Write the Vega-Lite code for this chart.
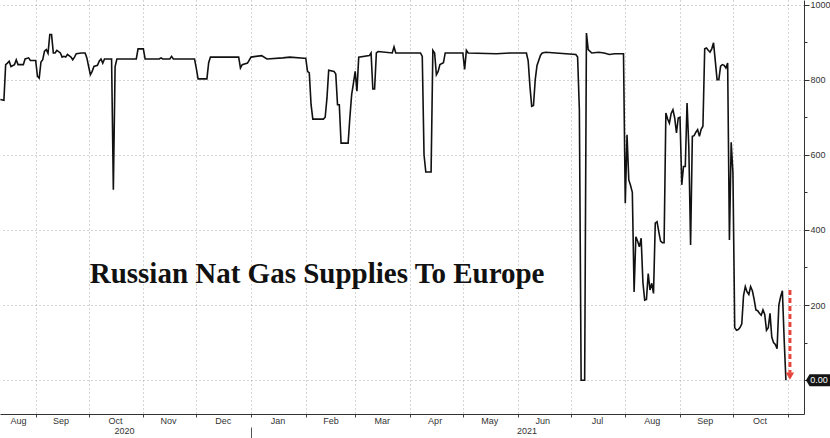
{
  "$schema": "https://vega.github.io/schema/vega-lite/v6.json",
  "width": 804,
  "height": 414,
  "autosize": {"type": "none"},
  "padding": {"left": 0, "top": 0, "right": 26, "bottom": 24},
  "background": "white",
  "config": {
    "view": {"stroke": null},
    "axis": {"labelFont": "Liberation Sans", "labelFontSize": 9, "labelColor": "#333", "title": null}
  },
  "datasets": {
    "gas": [
      {"d":"2020-08-12","v":747},{"d":"2020-08-14","v":745},{"d":"2020-08-15","v":840},{"d":"2020-08-16","v":844},
      {"d":"2020-08-17","v":849},{"d":"2020-08-18","v":835},{"d":"2020-08-20","v":840},{"d":"2020-08-21","v":853},
      {"d":"2020-08-22","v":840},{"d":"2020-08-25","v":840},{"d":"2020-08-26","v":855},{"d":"2020-08-28","v":858},
      {"d":"2020-08-29","v":851},{"d":"2020-09-01","v":851},{"d":"2020-09-02","v":809},{"d":"2020-09-03","v":804},
      {"d":"2020-09-04","v":847},{"d":"2020-09-05","v":853},{"d":"2020-09-06","v":876},{"d":"2020-09-07","v":880},
      {"d":"2020-09-08","v":870},{"d":"2020-09-09","v":920},{"d":"2020-09-10","v":920},{"d":"2020-09-11","v":871},
      {"d":"2020-09-12","v":871},{"d":"2020-09-13","v":878},{"d":"2020-09-15","v":871},{"d":"2020-09-16","v":860},
      {"d":"2020-09-17","v":862},{"d":"2020-09-18","v":860},{"d":"2020-09-19","v":867},{"d":"2020-09-21","v":860},
      {"d":"2020-09-22","v":853},{"d":"2020-09-23","v":860},{"d":"2020-09-24","v":869},{"d":"2020-09-27","v":871},
      {"d":"2020-09-29","v":871},{"d":"2020-09-30","v":858},{"d":"2020-10-01","v":835},{"d":"2020-10-02","v":813},
      {"d":"2020-10-03","v":822},{"d":"2020-10-04","v":835},{"d":"2020-10-06","v":838},{"d":"2020-10-07","v":849},
      {"d":"2020-10-08","v":855},{"d":"2020-10-09","v":844},{"d":"2020-10-10","v":855},{"d":"2020-10-14","v":855},
      {"d":"2020-10-15","v":507},{"d":"2020-10-16","v":835},{"d":"2020-10-17","v":855},{"d":"2020-10-28","v":855},
      {"d":"2020-10-29","v":882},{"d":"2020-11-01","v":882},{"d":"2020-11-02","v":855},{"d":"2020-11-10","v":855},
      {"d":"2020-11-11","v":858},{"d":"2020-11-12","v":855},{"d":"2020-11-16","v":855},{"d":"2020-11-17","v":862},
      {"d":"2020-11-18","v":855},{"d":"2020-11-30","v":855},{"d":"2020-12-01","v":830},{"d":"2020-12-02","v":802},
      {"d":"2020-12-07","v":802},{"d":"2020-12-08","v":845},{"d":"2020-12-09","v":860},{"d":"2020-12-25","v":860},
      {"d":"2020-12-26","v":831},{"d":"2020-12-27","v":840},{"d":"2020-12-30","v":844},{"d":"2021-01-01","v":860},
      {"d":"2021-01-07","v":864},{"d":"2021-01-10","v":855},{"d":"2021-01-19","v":858},{"d":"2021-01-23","v":860},
      {"d":"2021-01-31","v":857},{"d":"2021-02-01","v":857},{"d":"2021-02-02","v":822},{"d":"2021-02-03","v":818},
      {"d":"2021-02-04","v":734},{"d":"2021-02-05","v":695},{"d":"2021-02-11","v":695},{"d":"2021-02-12","v":700},
      {"d":"2021-02-13","v":750},{"d":"2021-02-14","v":825},{"d":"2021-02-17","v":822},{"d":"2021-02-18","v":815},
      {"d":"2021-02-19","v":733},{"d":"2021-02-20","v":733},{"d":"2021-02-21","v":631},{"d":"2021-02-25","v":631},
      {"d":"2021-02-26","v":700},{"d":"2021-02-27","v":760},{"d":"2021-02-28","v":790},{"d":"2021-03-01","v":822},
      {"d":"2021-03-02","v":769},{"d":"2021-03-03","v":860},{"d":"2021-03-09","v":864},{"d":"2021-03-10","v":871},
      {"d":"2021-03-11","v":775},{"d":"2021-03-12","v":775},{"d":"2021-03-13","v":871},{"d":"2021-03-14","v":875},
      {"d":"2021-03-22","v":871},{"d":"2021-03-23","v":887},{"d":"2021-03-24","v":871},{"d":"2021-04-07","v":871},
      {"d":"2021-04-08","v":862},{"d":"2021-04-09","v":600},{"d":"2021-04-10","v":554},{"d":"2021-04-13","v":554},
      {"d":"2021-04-14","v":878},{"d":"2021-04-15","v":871},{"d":"2021-04-16","v":813},{"d":"2021-04-17","v":822},
      {"d":"2021-04-18","v":840},{"d":"2021-04-20","v":845},{"d":"2021-04-21","v":871},{"d":"2021-05-01","v":871},
      {"d":"2021-05-02","v":827},{"d":"2021-05-03","v":878},{"d":"2021-05-04","v":871},{"d":"2021-05-20","v":869},
      {"d":"2021-05-28","v":871},{"d":"2021-06-06","v":871},{"d":"2021-06-07","v":850},{"d":"2021-06-08","v":782},
      {"d":"2021-06-09","v":729},{"d":"2021-06-10","v":731},{"d":"2021-06-11","v":800},{"d":"2021-06-12","v":838},
      {"d":"2021-06-14","v":865},{"d":"2021-06-15","v":871},{"d":"2021-06-17","v":873},{"d":"2021-07-04","v":867},
      {"d":"2021-07-05","v":860},{"d":"2021-07-06","v":720},{"d":"2021-07-07","v":0},{"d":"2021-07-08","v":0},
      {"d":"2021-07-09","v":0},{"d":"2021-07-10","v":924},{"d":"2021-07-11","v":880},{"d":"2021-07-13","v":871},
      {"d":"2021-07-17","v":873},{"d":"2021-07-20","v":871},{"d":"2021-07-23","v":867},{"d":"2021-07-26","v":869},
      {"d":"2021-07-31","v":869},{"d":"2021-08-01","v":471},{"d":"2021-08-02","v":653},{"d":"2021-08-03","v":533},
      {"d":"2021-08-04","v":518},{"d":"2021-08-05","v":500},{"d":"2021-08-06","v":235},{"d":"2021-08-07","v":382},
      {"d":"2021-08-08","v":370},{"d":"2021-08-09","v":355},{"d":"2021-08-10","v":378},{"d":"2021-08-11","v":260},
      {"d":"2021-08-12","v":213},{"d":"2021-08-13","v":215},{"d":"2021-08-14","v":284},{"d":"2021-08-15","v":240},
      {"d":"2021-08-16","v":258},{"d":"2021-08-17","v":231},{"d":"2021-08-18","v":418},{"d":"2021-08-19","v":422},
      {"d":"2021-08-20","v":395},{"d":"2021-08-21","v":370},{"d":"2021-08-22","v":366},{"d":"2021-08-23","v":366},
      {"d":"2021-08-24","v":711},{"d":"2021-08-25","v":695},{"d":"2021-08-26","v":684},{"d":"2021-08-27","v":710},
      {"d":"2021-08-28","v":720},{"d":"2021-08-29","v":698},{"d":"2021-08-30","v":658},{"d":"2021-08-31","v":698},
      {"d":"2021-09-01","v":700},{"d":"2021-09-02","v":520},{"d":"2021-09-03","v":569},{"d":"2021-09-04","v":569},
      {"d":"2021-09-05","v":738},{"d":"2021-09-06","v":620},{"d":"2021-09-07","v":360},{"d":"2021-09-08","v":649},
      {"d":"2021-09-09","v":651},{"d":"2021-09-10","v":660},{"d":"2021-09-11","v":667},{"d":"2021-09-12","v":649},
      {"d":"2021-09-13","v":668},{"d":"2021-09-14","v":676},{"d":"2021-09-15","v":882},{"d":"2021-09-16","v":884},
      {"d":"2021-09-17","v":878},{"d":"2021-09-18","v":873},{"d":"2021-09-19","v":882},{"d":"2021-09-20","v":898},
      {"d":"2021-09-21","v":850},{"d":"2021-09-22","v":800},{"d":"2021-09-23","v":800},{"d":"2021-09-24","v":836},
      {"d":"2021-09-25","v":840},{"d":"2021-09-26","v":838},{"d":"2021-09-27","v":831},{"d":"2021-09-28","v":844},
      {"d":"2021-09-29","v":373},{"d":"2021-09-30","v":633},{"d":"2021-10-01","v":551},{"d":"2021-10-02","v":140},
      {"d":"2021-10-03","v":133},{"d":"2021-10-04","v":135},{"d":"2021-10-05","v":140},{"d":"2021-10-06","v":150},
      {"d":"2021-10-07","v":225},{"d":"2021-10-08","v":249},{"d":"2021-10-09","v":235},{"d":"2021-10-10","v":228},
      {"d":"2021-10-11","v":249},{"d":"2021-10-12","v":238},{"d":"2021-10-13","v":215},{"d":"2021-10-14","v":187},
      {"d":"2021-10-15","v":185},{"d":"2021-10-16","v":178},{"d":"2021-10-17","v":173},{"d":"2021-10-18","v":187},
      {"d":"2021-10-19","v":175},{"d":"2021-10-20","v":133},{"d":"2021-10-21","v":140},{"d":"2021-10-22","v":178},
      {"d":"2021-10-23","v":115},{"d":"2021-10-24","v":100},{"d":"2021-10-25","v":95},{"d":"2021-10-26","v":84},
      {"d":"2021-10-27","v":200},{"d":"2021-10-28","v":222},{"d":"2021-10-29","v":238},{"d":"2021-10-30","v":110},
      {"d":"2021-10-31","v":0}
    ]
  },
  "layer": [
    {
      "data": {"name": "gas"},
      "mark": {"type": "line", "color": "#111111", "strokeWidth": 1.6},
      "encoding": {
        "x": {"field": "d", "type": "temporal",
          "scale": {"type": "utc", "nice": false, "domain": [{"year":2020,"month":8,"date":11,"hours":19,"utc":true},{"year":2021,"month":11,"date":10,"hours":6,"utc":true}]},
          "axis": {"orient": "bottom", "labels": false, "grid": true, "gridDash": [1, 3], "gridColor": "#a8a8a8",
            "ticks": true, "tickSize": 3, "tickColor": "#444", "domain": true, "domainColor": "#333",
            "values": [
              {"year":2020,"month":9,"date":1,"utc":true},{"year":2020,"month":10,"date":1,"utc":true},
              {"year":2020,"month":11,"date":1,"utc":true},{"year":2020,"month":12,"date":1,"utc":true},
              {"year":2021,"month":1,"date":1,"utc":true},{"year":2021,"month":2,"date":1,"utc":true},
              {"year":2021,"month":3,"date":1,"utc":true},{"year":2021,"month":4,"date":1,"utc":true},
              {"year":2021,"month":5,"date":1,"utc":true},{"year":2021,"month":6,"date":1,"utc":true},
              {"year":2021,"month":7,"date":1,"utc":true},{"year":2021,"month":8,"date":1,"utc":true},
              {"year":2021,"month":9,"date":1,"utc":true},{"year":2021,"month":10,"date":1,"utc":true},
              {"year":2021,"month":11,"date":1,"utc":true}
            ]}},
        "y": {"field": "v", "type": "quantitative",
          "scale": {"domain": [-90, 1012], "nice": false, "zero": false},
          "axis": {"orient": "right", "values": [0, 200, 400, 600, 800, 1000], "format": "d",
            "grid": true, "gridDash": [1, 3], "gridColor": "#a8a8a8", "tickSize": 5, "tickColor": "#333",
            "domainColor": "#333", "labelPadding": 1,
            "labelExpr": "datum.value == 0 ? '' : datum.label"}}
      }
    },
    {
      "data": {"values": [{}]},
      "mark": {"type": "rule", "color": "#e8453c", "strokeWidth": 3, "strokeDash": [5, 3]},
      "encoding": {
        "x": {"datum": {"year":2021,"month":11,"date":2,"hours":7,"utc":true}, "type": "temporal",
          "scale": {"type": "utc", "nice": false, "domain": [{"year":2020,"month":8,"date":11,"hours":19,"utc":true},{"year":2021,"month":11,"date":10,"hours":6,"utc":true}]},
          "axis": {"orient": "bottom", "labelExpr": "utcFormat(datum.value, '%b')", "ticks": false, "grid": false, "domain": false,
            "labelPadding": 2, "labelBaseline": "top", "labelOverlap": false, "labelFlush": false, "labelBound": false,
            "values": [
              {"year":2020,"month":8,"date":22,"utc":true},{"year":2020,"month":9,"date":15,"utc":true},
              {"year":2020,"month":10,"date":16,"utc":true},{"year":2020,"month":11,"date":15,"utc":true},
              {"year":2020,"month":12,"date":16,"utc":true},{"year":2021,"month":1,"date":16,"utc":true},
              {"year":2021,"month":2,"date":15,"utc":true},{"year":2021,"month":3,"date":16,"utc":true},
              {"year":2021,"month":4,"date":15,"utc":true},{"year":2021,"month":5,"date":16,"utc":true},
              {"year":2021,"month":6,"date":15,"utc":true},{"year":2021,"month":7,"date":16,"utc":true},
              {"year":2021,"month":8,"date":16,"utc":true},{"year":2021,"month":9,"date":15,"utc":true},
              {"year":2021,"month":10,"date":16,"utc":true}
            ]}},
        "y": {"datum": 240, "type": "quantitative",
          "scale": {"domain": [-90, 1012], "nice": false, "zero": false},
          "axis": {"orient": "right", "values": [100, 300, 500, 700, 900], "labels": false, "grid": false,
            "domain": false, "tickSize": 3, "tickColor": "#333"}},
        "y2": {"datum": 20}
      }
    },
    {
      "data": {"values": [{}]},
      "mark": {"type": "point", "shape": "triangle-down", "filled": true, "color": "#e8453c", "size": 70, "opacity": 1},
      "encoding": {
        "x": {"datum": {"year":2021,"month":11,"date":2,"hours":7,"utc":true}, "type": "temporal",
          "scale": {"type": "utc", "nice": false, "domain": [{"year":2020,"month":8,"date":11,"hours":19,"utc":true},{"year":2021,"month":11,"date":10,"hours":6,"utc":true}]},
          "axis": {"orient": "bottom", "labelExpr": "utcFormat(datum.value, '%Y')", "ticks": false, "grid": false, "domain": false,
            "labelPadding": 12, "labelBaseline": "top", "labelOverlap": false, "labelFlush": false, "labelBound": false,
            "values": [{"year":2020,"month":10,"date":21,"utc":true},{"year":2021,"month":6,"date":6,"utc":true}]}},
        "y": {"datum": 11, "type": "quantitative", "scale": {"domain": [-90, 1012], "nice": false, "zero": false}, "axis": null}
      }
    },
    {
      "data": {"values": [{}]},
      "mark": {"type": "text", "text": "Russian Nat Gas Supplies To Europe", "font": "Liberation Serif", "fontWeight": "bold",
        "fontSize": 29, "align": "center", "baseline": "alphabetic", "color": "#111"},
      "encoding": {
        "x": {"datum": {"year":2021,"month":2,"date":7,"hours":10,"utc":true}, "type": "temporal",
          "scale": {"type": "utc", "nice": false, "domain": [{"year":2020,"month":8,"date":11,"hours":19,"utc":true},{"year":2021,"month":11,"date":10,"hours":6,"utc":true}]},
          "axis": {"orient": "bottom", "labels": false, "grid": false, "domain": false, "ticks": true, "tickSize": 11,
            "offset": 13, "tickColor": "#555",
            "values": [{"year":2021,"month":1,"date":1,"utc":true}]}},
        "y": {"datum": 258, "type": "quantitative", "scale": {"domain": [-90, 1012], "nice": false, "zero": false}, "axis": null}
      }
    },
    {
      "data": {"values": [{}]},
      "mark": {"type": "point", "shape": "M -1 0 L -0.72 -0.46 L 1 -0.46 L 1 0.46 L -0.72 0.46 Z", "filled": true,
        "color": "#151515", "size": 676, "opacity": 1},
      "encoding": {
        "x": {"datum": {"year":2021,"month":11,"date":18,"hours":17,"utc":true}, "type": "temporal",
          "scale": {"type": "utc", "nice": false, "domain": [{"year":2020,"month":8,"date":11,"hours":19,"utc":true},{"year":2021,"month":11,"date":10,"hours":6,"utc":true}]},
          "axis": null},
        "y": {"datum": 0, "type": "quantitative", "scale": {"domain": [-90, 1012], "nice": false, "zero": false}, "axis": null}
      }
    },
    {
      "data": {"values": [{}]},
      "mark": {"type": "text", "text": "0.00", "font": "Liberation Sans", "fontSize": 9, "align": "center", "baseline": "middle", "color": "white"},
      "encoding": {
        "x": {"datum": {"year":2021,"month":11,"date":18,"hours":17,"utc":true}, "type": "temporal",
          "scale": {"type": "utc", "nice": false, "domain": [{"year":2020,"month":8,"date":11,"hours":19,"utc":true},{"year":2021,"month":11,"date":10,"hours":6,"utc":true}]},
          "axis": null},
        "y": {"datum": 0, "type": "quantitative", "scale": {"domain": [-90, 1012], "nice": false, "zero": false}, "axis": null}
      }
    }
  ],
  "resolve": {"axis": {"x": "independent", "y": "independent"}}
}
